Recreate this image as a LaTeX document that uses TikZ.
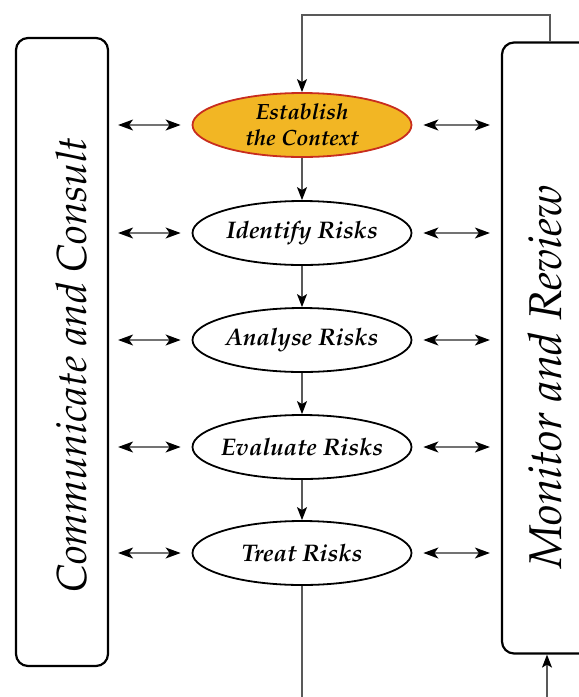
\documentclass[tikz,border=0pt]{standalone}
\usepackage[T1]{fontenc}
\usepackage{mathpazo}
\usetikzlibrary{shapes.geometric,arrows.meta}

\definecolor{estfill}{RGB}{242,182,36}
\definecolor{estline}{RGB}{200,45,30}

\begin{document}
\begin{tikzpicture}[x=1pt,y=-1pt,
    stage/.style={ellipse,draw,line width=1.8pt,minimum width=219pt,minimum height=64pt,
      inner xsep=-15pt,inner ysep=0pt,align=center,font=\fontsize{24}{24}\selectfont\bfseries\itshape},
    sidebox/.style={draw,line width=2.2pt,rounded corners=12pt},
    sidetext/.style={rotate=90,inner sep=0pt,font=\fontsize{#1}{#1}\selectfont\itshape},
    flow/.style={-{Stealth[length=13pt,width=10pt,inset=3pt,color=black]},line width=1.3pt,draw=black!65},
    both/.style={{Stealth[length=15pt,width=11pt,inset=4pt,color=black]}-{Stealth[length=15pt,width=11pt,inset=4pt,color=black]},
      line width=1.3pt,draw=black!55}]
  \clip (0,0) rectangle (579,697);

  % side boxes
  \node[sidebox,minimum width=92pt,minimum height=628pt] (cc) at (62,352) {};
  \node[sidetext=42] (cctext) at (72,365) {Communicate and Consult};
  \node[sidebox,minimum width=98pt,minimum height=611pt] (mr) at (551,348) {};
  \node[sidetext=46] (mrtext) at (545,377) {Monitor and Review};

  % process steps
  \node[stage,fill=estfill,draw=estline,font=\fontsize{22}{26}\selectfont\bfseries\itshape] (est) at (302,125) {Establish\\the Context};
  \node[stage] (ident) at (302,233) {Identify Risks};
  \node[stage] (anal) at (302,340) {Analyse Risks};
  \node[stage] (eval) at (302,447) {Evaluate Risks};
  \node[stage] (treat) at (302,553) {Treat Risks};

  \draw[flow] (est) -- (ident);
  \draw[flow] (ident) -- (anal);
  \draw[flow] (anal) -- (eval);
  \draw[flow] (eval) -- (treat);

  \foreach \n in {est,ident,anal,eval,treat}{
    \draw[both,shorten <=9pt,shorten >=11pt] (cc.east |- \n.west) -- (\n.west);
    \draw[both,shorten <=11pt,shorten >=11pt] (\n.east) -- (mr.west |- \n.east);
  }

  % feedback loop
  \coordinate (top) at (302,15);
  \coordinate (low) at (302,700);
  \coordinate (lowr) at (547,700);
  \draw[flow] (mr.north -| 550,0) |- (top) -- (est.north);
  \draw[line width=1.3pt,draw=black!65] (treat.south) -- (low);
  \draw[flow] (lowr) -- (mr.south -| lowr);
\end{tikzpicture}
\end{document}
